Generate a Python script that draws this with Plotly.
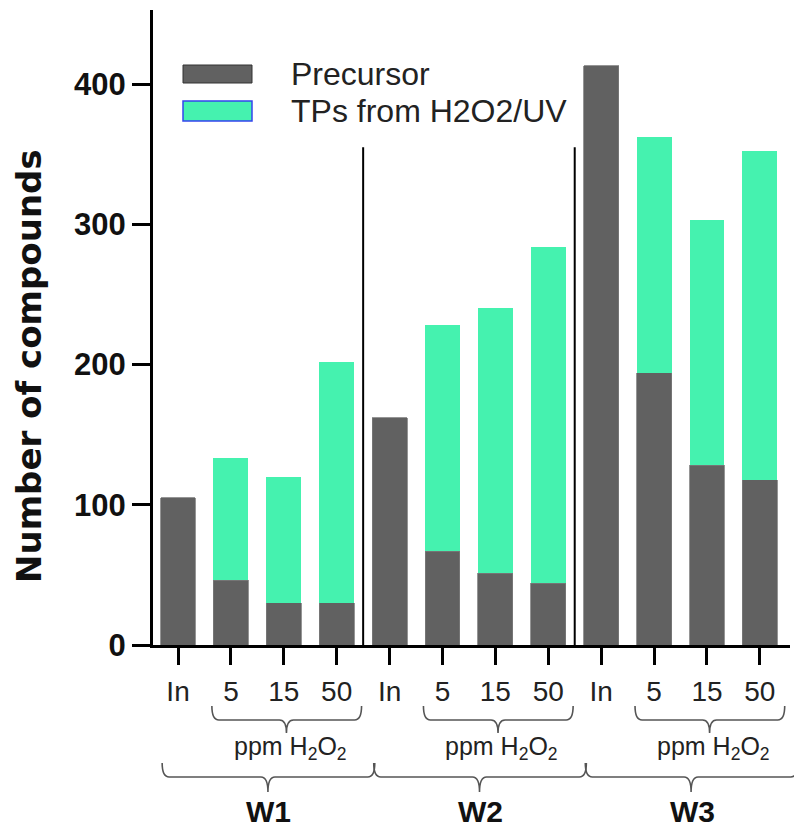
import plotly.graph_objects as go

categories = ["In", "5", "15", "50", "In", "5", "15", "50", "In", "5", "15", "50"]
groups = ["W1", "W2", "W3"]
precursor = [105, 46, 30, 30, 162, 67, 51, 44, 413, 194, 128, 118]
tps = [0, 87, 90, 172, 0, 161, 189, 240, 0, 168, 175, 234]
y_ticks = [0, 100, 200, 300, 400]

FONT = "Liberation Sans, Arial, sans-serif"
OFF = 8  # page body margin
W, H = 802 - OFF, 831 - OFF
# plot area in reference-picture pixels
PL, PR, PT, PB = 153, 790, 10, 645
L, R, T, B = PL - OFF, W - (PR - OFF), PT - OFF, H - (PB - OFF)
XMIN, XMAX = -0.473, 11.57
YMAX = 452.8


def px2x(px):
    return (px - PL) / (PR - PL)


def py2y(py):
    return (PB - py) / (PB - PT)


def d2x(x):
    return (x - XMIN) / (XMAX - XMIN)


xs = list(range(len(categories)))

fig = go.Figure()
fig.add_bar(x=xs, y=precursor, name="Precursor", width=0.66,
            marker=dict(color="#616161", line=dict(color="#7a7a7a", width=0.8)),
            showlegend=False)
fig.add_bar(x=xs, y=tps, name="TPs from H2O2/UV", width=0.66,
            marker=dict(color="#45F2AF", line=dict(color="#45F2AF", width=0)),
            showlegend=False)

shapes = []
annotations = []

# group separators
for g in range(1, len(groups)):
    sx = g * 4 - 0.5
    shapes.append(dict(type="line", xref="x", yref="y", x0=sx, x1=sx, y0=0, y1=355,
                       line=dict(color="black", width=2)))


def brace(x0, x1, xc, ytop, ymid, ybot, color="#555555", w=1.6):
    d = 0.011
    path = (f"M {x0},{ytop} Q {x0},{ymid} {x0 + d},{ymid} "
            f"L {xc - d},{ymid} Q {xc},{ymid} {xc},{ybot} "
            f"Q {xc},{ymid} {xc + d},{ymid} "
            f"L {x1 - d},{ymid} Q {x1},{ymid} {x1},{ytop}")
    return dict(type="path", xref="paper", yref="paper", path=path,
                line=dict(color=color, width=w))


for g, name in enumerate(groups):
    base = g * 4
    # small brace for ppm H2O2
    sx0, sx1, sxc = d2x(base + 0.64), d2x(base + 3.47), d2x(base + 2.05)
    shapes.append(brace(sx0, sx1, sxc, py2y(706), py2y(720), py2y(733)))
    annotations.append(dict(x=d2x(base + 2.12), y=py2y(748), xref="paper", yref="paper",
                            text="ppm H<sub>2</sub>O<sub>2</sub>", showarrow=False,
                            font=dict(family=FONT, size=25, color="#222"),
                            xanchor="center", yanchor="middle"))
    # big brace for group
    bx0, bx1, bxc = d2x(base - 0.30), d2x(base + 3.72), d2x(base + 1.70)
    shapes.append(brace(bx0, bx1, bxc, py2y(763), py2y(777), py2y(792)))
    annotations.append(dict(x=d2x(base + 1.72), y=py2y(811), xref="paper", yref="paper",
                            text=f"<b>{name}</b>", showarrow=False,
                            font=dict(family=FONT, size=30, color="#111"),
                            xanchor="center", yanchor="middle"))

# custom legend
shapes.append(dict(type="rect", xref="paper", yref="paper",
                   x0=px2x(183), x1=px2x(252), y0=py2y(83), y1=py2y(65),
                   fillcolor="#616161", line=dict(color="#333", width=1)))
shapes.append(dict(type="rect", xref="paper", yref="paper",
                   x0=px2x(183), x1=px2x(252), y0=py2y(121), y1=py2y(101),
                   fillcolor="#45F2AF", line=dict(color="#3344EE", width=1.5)))
annotations.append(dict(x=px2x(289), y=py2y(74), xref="paper", yref="paper",
                        text="Precursor", showarrow=False, xanchor="left", yanchor="middle",
                        font=dict(family=FONT, size=32, color="#222")))
annotations.append(dict(x=px2x(289), y=py2y(111), xref="paper", yref="paper",
                        text="TPs from H2O2/UV", showarrow=False, xanchor="left", yanchor="middle",
                        font=dict(family=FONT, size=32, color="#222")))

# y title
annotations.append(dict(x=px2x(29), y=py2y(366), xref="paper", yref="paper",
                        text="<b>Number of compounds</b>", showarrow=False, textangle=-90,
                        xanchor="center", yanchor="middle",
                        font=dict(family="DejaVu Sans, sans-serif", size=34, color="#111")))

fig.update_layout(
    width=W, height=H, barmode="stack",
    margin=dict(l=L, r=R, t=T, b=B),
    plot_bgcolor="white", paper_bgcolor="white",
    font=dict(family=FONT, color="#111"),
    shapes=shapes, annotations=annotations,
    xaxis=dict(range=[XMIN, XMAX], tickvals=xs, ticktext=categories,
               showline=True, linecolor="black", linewidth=3,
               ticks="outside", ticklen=17, tickwidth=3, tickcolor="black",
               tickfont=dict(family=FONT, size=28, color="#222"),
               ticklabelstandoff=2, showgrid=False, zeroline=False, fixedrange=True),
    yaxis=dict(range=[0, YMAX], tickvals=y_ticks,
               showline=True, linecolor="black", linewidth=3,
               ticks="outside", ticklen=18, tickwidth=3, tickcolor="black",
               tickfont=dict(family=FONT, size=31, color="#111", weight="bold"),
               showgrid=False, zeroline=False, fixedrange=True),
)

fig.write_html("out.html")
